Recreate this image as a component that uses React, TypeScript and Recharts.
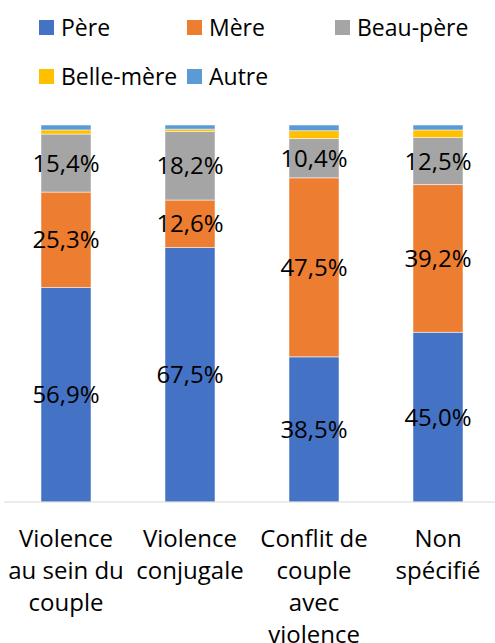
import { BarChart, Bar, XAxis, YAxis, LabelList } from "recharts";

const categories = ["Violence au sein du couple", "Violence conjugale", "Conflit de couple avec violence", "Non spécifié"];
const tickLines = [
  ["Violence", "au sein du", "couple"],
  ["Violence", "conjugale"],
  ["Conflit de", "couple", "avec", "violence"],
  ["Non", "spécifié"],
];

const pere = [56.9, 67.5, 38.5, 45.0];
const mere = [25.3, 12.6, 47.5, 39.2];
const beauPere = [15.4, 18.2, 10.4, 12.5];
const belleMere = [1.1, 0.6, 2.1, 2.0];
const autre = [1.3, 1.1, 1.5, 1.3];

const series = [
  { key: "pere", name: "Père", values: pere, color: "#4472C4", labels: true },
  { key: "mere", name: "Mère", values: mere, color: "#ED7D31", labels: true },
  { key: "beauPere", name: "Beau-père", values: beauPere, color: "#A5A5A5", labels: true },
  { key: "belleMere", name: "Belle-mère", values: belleMere, color: "#FFC000", labels: false },
  { key: "autre", name: "Autre", values: autre, color: "#5B9BD5", labels: false },
];

const data = categories.map((c, i) => {
  const row: Record<string, string | number> = { name: c };
  series.forEach((s) => {
    row[s.key] = s.values[i];
  });
  return row;
});

const FONT = "'Open Sans', sans-serif";

function CategoryTick(props: any) {
  const { x, y, index } = props;
  const lines = tickLines[index] || [];
  return (
    <text x={x} y={y} textAnchor="middle" fontSize={24} fill="#000" fontFamily={FONT}>
      {lines.map((l, i) => (
        <tspan key={i} x={x} dy={i === 0 ? 37 : 32}>
          {l}
        </tspan>
      ))}
    </text>
  );
}

const fmt = (v: any) => `${Number(v).toFixed(1).replace(".", ",")}%`;

export default function App() {
  return (
    <div
      style={{
        position: "absolute",
        left: 0,
        top: 0,
        width: 495,
        height: 643,
        overflow: "hidden",
        background: "#fff",
        fontFamily: FONT,
      }}
    >
      {series.map((s, i) => (
        <div
          key={s.key}
          style={{
            position: "absolute",
            left: 39 + (i % 3) * 148,
            top: i < 3 ? 12 : 61,
            display: "flex",
            alignItems: "center",
            height: 30,
            fontSize: 23,
            color: "#000",
            whiteSpace: "nowrap",
          }}
        >
          <span style={{ width: 15, height: 15, background: s.color, marginRight: 7 }} />
          <span>{s.name}</span>
        </div>
      ))}
      <div style={{ position: "absolute", left: 0, top: 0 }}>
        <BarChart
          width={500}
          height={643}
          data={data}
          margin={{ top: 125, right: 0, left: 4, bottom: 11 }}
          barSize={50}
        >
          <XAxis
            dataKey="name"
            axisLine={{ stroke: "#D9D9D9", strokeWidth: 1 }}
            tickLine={false}
            tick={<CategoryTick />}
            interval={0}
            height={130}
          />
          <YAxis hide domain={[0, 100]} />
          {series.map((s) => (
            <Bar
              key={s.key}
              dataKey={s.key}
              name={s.name}
              stackId="a"
              fill={s.color}
              stroke="#ffffff"
              strokeWidth={0.5}
              isAnimationActive={false}
            >
              {s.labels && (
                <LabelList
                  dataKey={s.key}
                  position="center"
                  formatter={fmt}
                  fill="#000"
                  fontSize={24}
                  fontFamily={FONT}
                />
              )}
            </Bar>
          ))}
        </BarChart>
      </div>
    </div>
  );
}
